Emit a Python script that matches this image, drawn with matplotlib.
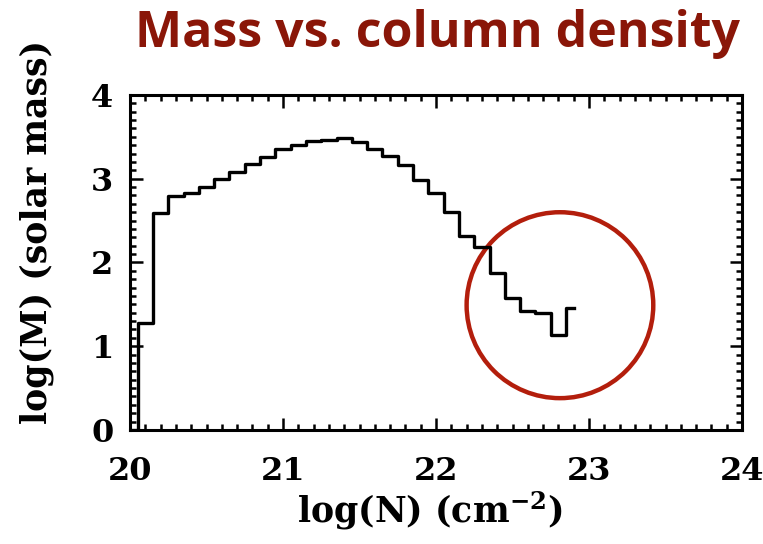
import matplotlib
matplotlib.use('Agg')
import matplotlib.pyplot as plt
from matplotlib.patches import Ellipse
from matplotlib.ticker import MultipleLocator

# column density bins (log N, cm^-2) and mass per bin (log M, solar mass)
logN = [20.0, 20.1, 20.2, 20.3, 20.4, 20.5, 20.6, 20.7, 20.8, 20.9,
        21.0, 21.1, 21.2, 21.3, 21.4, 21.5, 21.6, 21.7, 21.8, 21.9,
        22.0, 22.1, 22.2, 22.3, 22.4, 22.5, 22.6, 22.7, 22.8, 22.9]
logM = [0.0, 1.28, 2.59, 2.79, 2.83, 2.90, 3.00, 3.08, 3.18, 3.26,
        3.35, 3.40, 3.45, 3.46, 3.49, 3.44, 3.35, 3.27, 3.16, 2.99,
        2.83, 2.60, 2.32, 2.19, 1.87, 1.58, 1.42, 1.40, 1.13, 1.46]

xticks = [20, 21, 22, 23, 24]
yticks = [0, 1, 2, 3, 4]

# highlighted high-density tail
circ_x, circ_y = 22.81, 1.49
circ_w, circ_h = 1.22, 2.22

plt.rcParams['mathtext.fontset'] = 'dejavuserif'
plt.rcParams['mathtext.default'] = 'bf'
lab_font = dict(family='DejaVu Serif', weight='bold', size=25)

fig = plt.figure(figsize=(7.63, 5.44), dpi=100)
ax = fig.add_axes([0.1704, 0.2096, 0.8021, 0.6158])

ax.step(logN, logM, where='mid', color='black', lw=2.4)

ax.set_xlim(20, 24)
ax.set_ylim(0, 4)
ax.set_xticks(xticks)
ax.set_yticks(yticks)
ax.xaxis.set_minor_locator(MultipleLocator(0.1))
ax.yaxis.set_minor_locator(MultipleLocator(0.1))
ax.tick_params(which='both', direction='in', top=True, right=True, width=1.8)
ax.tick_params(which='major', length=9)
ax.tick_params(which='minor', length=4.5)
ax.tick_params(axis='x', which='major', pad=19)
ax.tick_params(axis='y', which='major', pad=12)
for lbl in ax.get_xticklabels() + ax.get_yticklabels():
    lbl.set_fontfamily('DejaVu Serif')
    lbl.set_fontweight('bold')
    lbl.set_fontsize(23)
for sp in ax.spines.values():
    sp.set_linewidth(2.2)

fig.text(0.5636, 0.062, r'log(N) (cm$^{-2}$)', ha='center', va='center',
         **lab_font)
fig.text(0.048, 0.574, 'log(M) (solar mass)', ha='center', va='center',
         rotation=90, **lab_font)

ax.add_patch(Ellipse((circ_x, circ_y), circ_w, circ_h, fill=False,
                     edgecolor='#b31e0c', lw=3.2, clip_on=False))

fig.text(0.574, 0.937, 'Mass vs. column density', ha='center', va='center',
         color='#8a1608', fontsize=36, fontweight='bold', family='Open Sans')

fig.savefig('out.png', dpi=100)
